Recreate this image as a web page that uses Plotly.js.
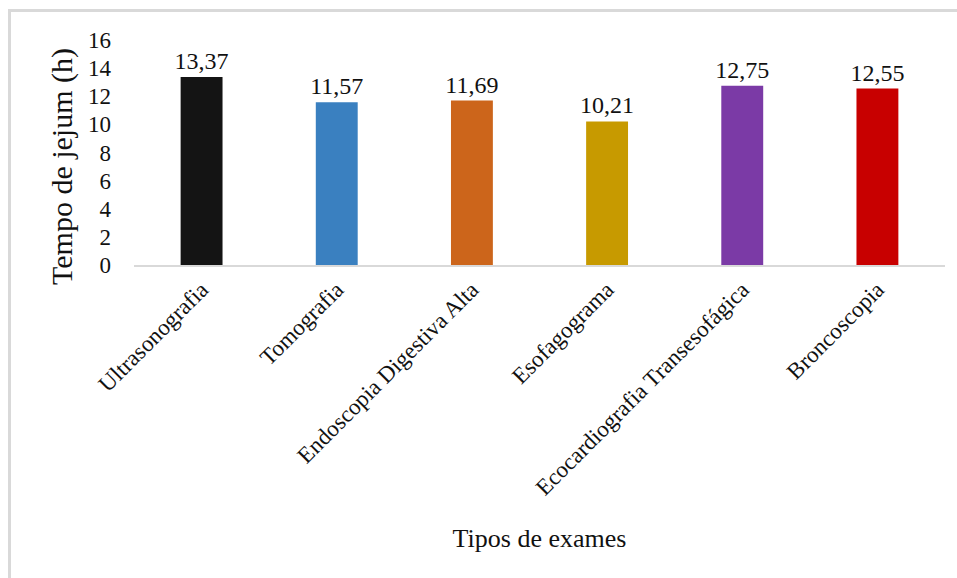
<!DOCTYPE html>
<html>
<head>
<meta charset="utf-8">
<script src="https://cdn.plot.ly/plotly-3.0.1.min.js"></script>
<style>
html,body{margin:0;padding:0;background:#fff;}
#wrap{position:relative;width:957px;height:578px;overflow:hidden;}
#chart{position:absolute;left:0;top:0;width:957px;height:578px;}
#frame{position:absolute;left:8px;top:9px;width:960px;height:600px;border-left:3px solid #d9d9d9;border-top:3px solid #d9d9d9;pointer-events:none;}
</style>
</head>
<body>
<div id="wrap"><div id="chart"></div><div id="frame"></div></div>
<script>
const categories = ["Ultrasonografia","Tomografia","Endoscopia Digestiva Alta","Esofagograma","Ecocardiografia Transesofágica","Broncoscopia"];
const values = [13.37, 11.57, 11.69, 10.21, 12.75, 12.55];
const labels = ["13,37","11,57","11,69","10,21","12,75","12,55"];
const colors = ["#141414","#3a80c0","#cc651b","#c79a00","#7b3aa6","#c80000"];
const yTicks = [0,2,4,6,8,10,12,14,16];
const yTitle = "Tempo de jejum (h)";
const xTitle = "Tipos de exames";

const font = "Liberation Serif, Times New Roman, serif";
Plotly.newPlot("chart", [{
  type: "bar",
  x: categories,
  y: values,
  text: labels,
  textposition: "outside",
  constraintext: "none",
  cliponaxis: false,
  textfont: {family: font, size: 24, color: "#111"},
  marker: {color: colors},
  width: 0.31,
  hoverinfo: "none"
}], {
  width: 957, height: 578,
  margin: {l: 134, r: 12, t: 40, b: 313},
  paper_bgcolor: "#fff", plot_bgcolor: "#fff",
  showlegend: false,
  font: {family: font, size: 20, color: "#111"},
  xaxis: {
    tickangle: -45,
    tickfont: {family: font, size: 23, color: "#111"},
    showline: true, linecolor: "#d9d9d9", linewidth: 2,
    ticks: "", showgrid: false,
    title: {text: xTitle, font: {family: font, size: 26, color: "#111"}, standoff: 30}
  },
  yaxis: {
    range: [0, 16],
    tickvals: yTicks,
    ticktext: yTicks.map(String),
    tickfont: {family: font, size: 23, color: "#111"},
    ticklabelstandoff: 22,
    showgrid: false, zeroline: false, showline: false, ticks: "",
    title: {text: ""}
  },
  annotations: [{
    text: yTitle, textangle: -90, showarrow: false,
    xref: "paper", yref: "paper", x: -0.0888, y: 0.44,
    xanchor: "center", yanchor: "middle",
    font: {family: font, size: 30, color: "#111"}
  }]
}, {displayModeBar: false, staticPlot: true});
</script>
</body>
</html>
